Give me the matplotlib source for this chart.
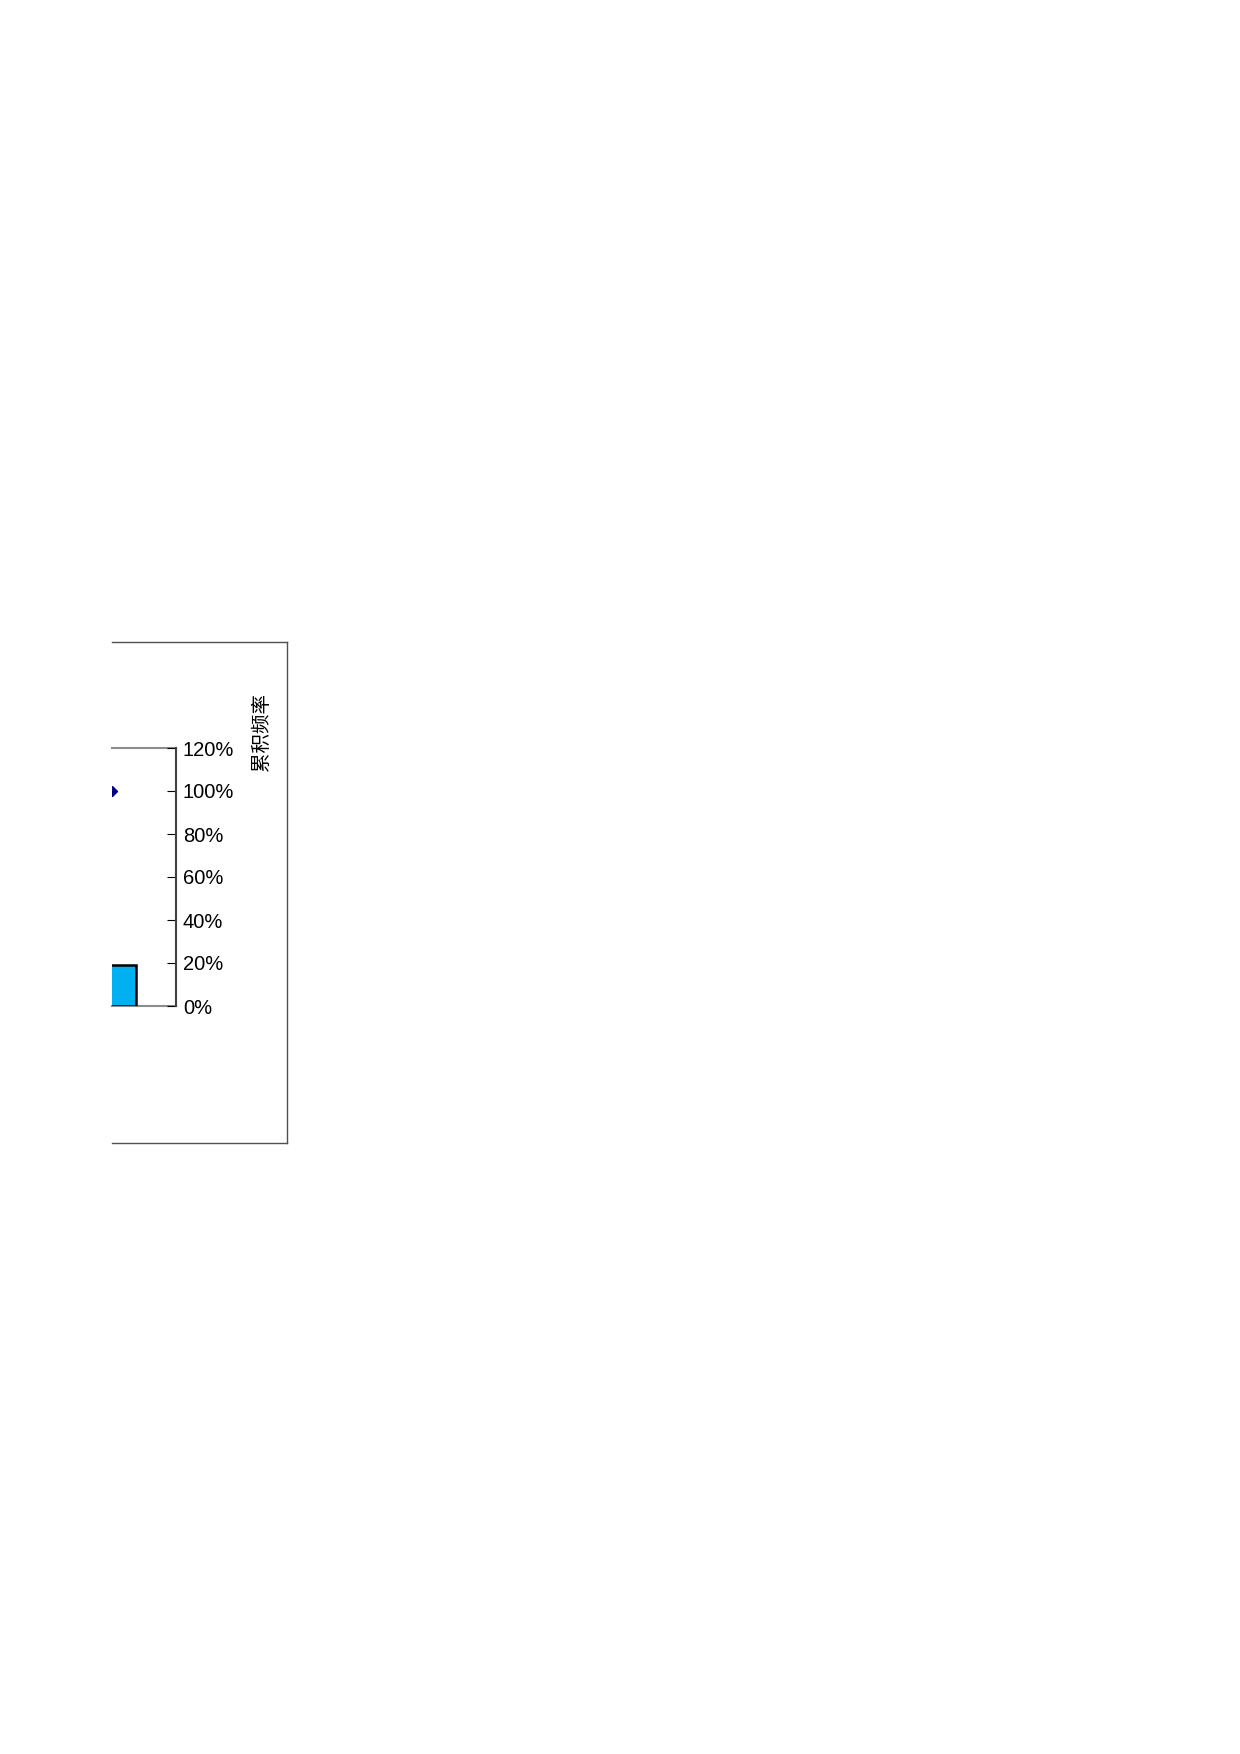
import matplotlib.pyplot as plt
import numpy as np
from matplotlib.ticker import PercentFormatter

plt.rcParams['font.family'] = ['Liberation Sans', 'Noto Sans CJK SC']

# pareto data (only the last category ends up inside the visible crop)
categories = ['A', 'B', 'C', 'D']
counts = [33, 26, 22, 19]
cum_pct = [0.33, 0.59, 0.81, 1.00]
pct_ticks = [0.0, 0.2, 0.4, 0.6, 0.8, 1.0, 1.2]

W, H = 1240, 1754
fig = plt.figure(figsize=(W / 100, H / 100), dpi=100)

# chart area border, cut off on the left
frame = fig.add_axes([112 / W, 611 / H, 175 / W, 501 / H])
frame.set_xticks([])
frame.set_yticks([])
frame.patch.set_alpha(0)
frame.spines['left'].set_visible(False)
for s in ['top', 'right', 'bottom']:
    frame.spines[s].set_color('#505050')
    frame.spines[s].set_linewidth(1.0)

ax = fig.add_axes([112 / W, 748 / H, 64 / W, 258 / H])
x = np.arange(len(categories))
ax.bar(x, counts, width=0.375, color='#00B0F0', edgecolor='black',
       linewidth=1.8, zorder=3)
ax.set_ylim(0, sum(counts) * 1.2)
ax.set_xlim(len(categories) - 1, len(categories) - 0.5)
ax.set_xticks([])
ax.set_yticks([])
ax.spines['left'].set_visible(False)
ax.spines['right'].set_visible(False)
for s in ['top', 'bottom']:
    ax.spines[s].set_color('#8c8c8c')
    ax.spines[s].set_linewidth(1.5)

ax2 = ax.twinx()
ax2.plot(x, cum_pct, color='#000080', marker='D', markersize=4.8, linewidth=1.5)
ax2.set_ylim(0, 1.2)
ax2.set_yticks(pct_ticks)
ax2.yaxis.set_major_formatter(PercentFormatter(1.0, decimals=0))
ax2.tick_params(axis='y', direction='in', length=6.5, width=0.8,
                pad=5, labelsize=14.5, colors='black')
for s in ['left', 'top', 'bottom']:
    ax2.spines[s].set_visible(False)
ax2.spines['right'].set_color('#404040')
ax2.spines['right'].set_linewidth(1.5)
ax2.set_ylabel('累积频率', fontsize=14, rotation=90, va='center', ha='center')
ax2.yaxis.set_label_coords(2.34, 1.062)

fig.savefig('out.png', dpi=100)
